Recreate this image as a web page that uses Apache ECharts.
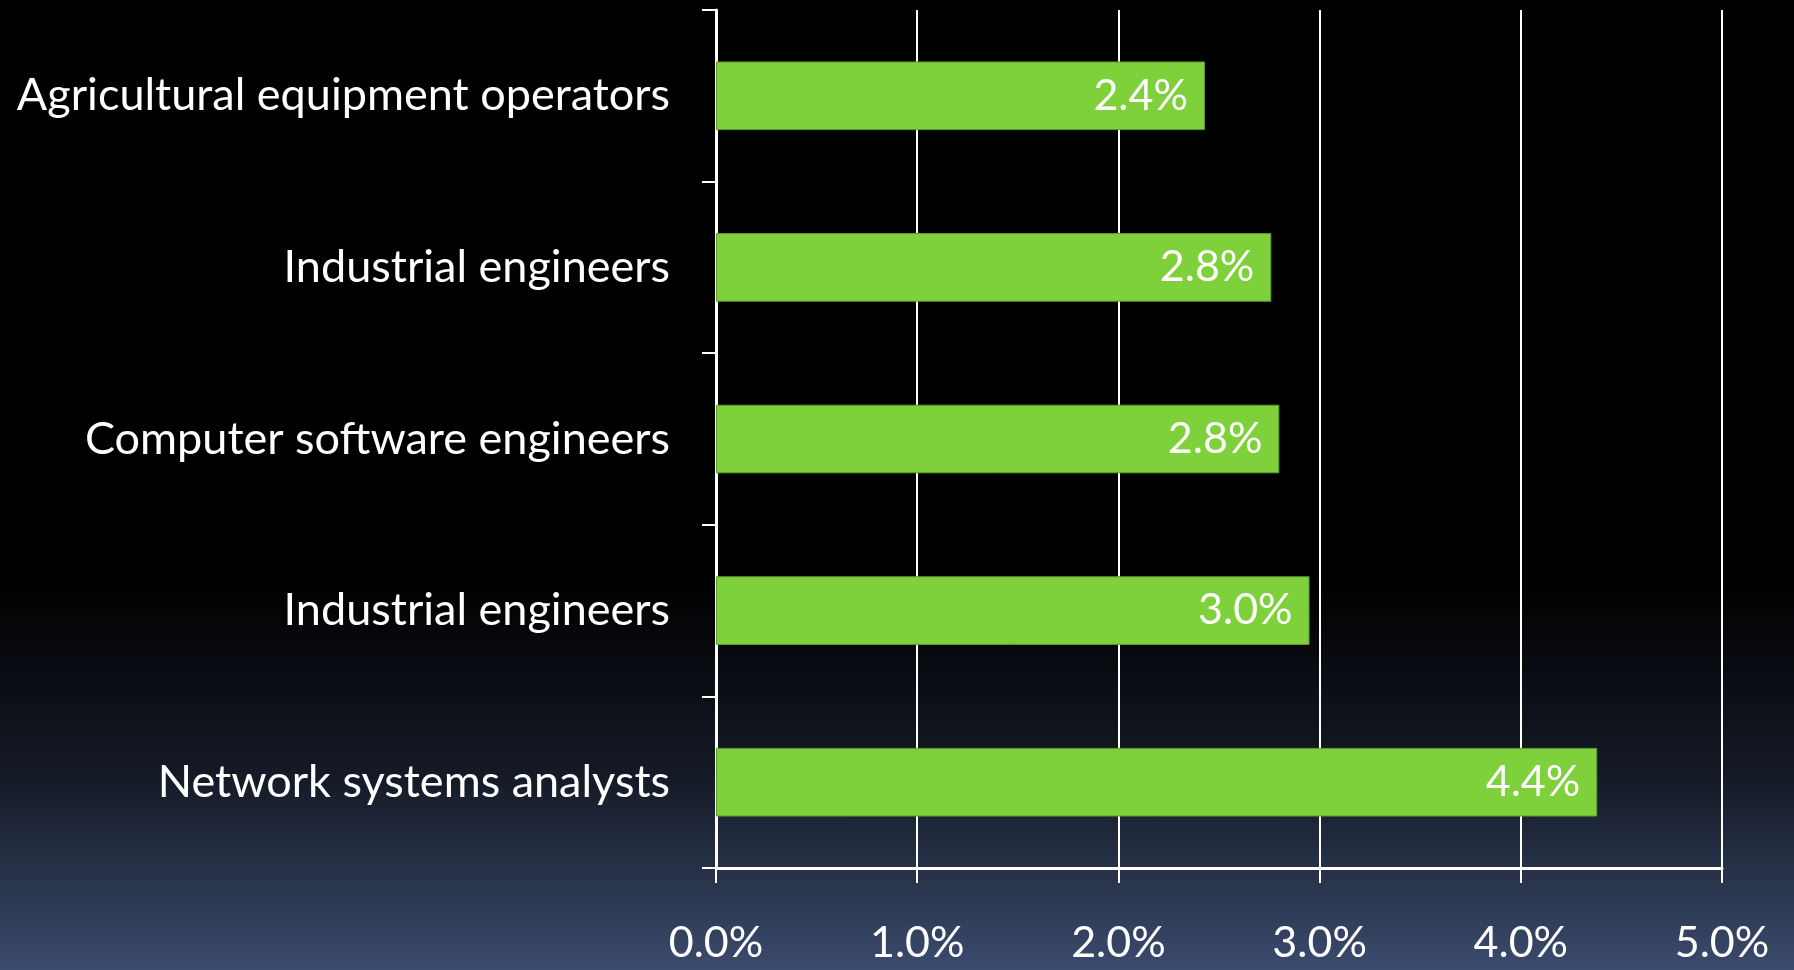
<!DOCTYPE html>
<html>
<head>
<meta charset="utf-8">
<script src="https://cdn.jsdelivr.net/npm/echarts@6/dist/echarts.min.js"></script>
<style>
  html, body { margin: 0; padding: 0; background: #000; }
  #chart { width: 1794px; height: 970px; }
</style>
</head>
<body>
<div id="chart"></div>
<script>
// categories top to bottom (two rows share the same name, so the axis uses indices)
var categories = [
    'Agricultural equipment operators',
    'Industrial engineers',
    'Computer software engineers',
    'Industrial engineers',
    'Network systems analysts'
];
var values = [2.43, 2.76, 2.80, 2.95, 4.38];   // percent
var xTicks = [0, 1, 2, 3, 4, 5];

var myChart = echarts.init(document.getElementById('chart'));
var font = 'Lato, "Open Sans", sans-serif';

var option = {
    backgroundColor: {
        type: 'linear', x: 0, y: 0, x2: 0, y2: 1,
        colorStops: [
            {offset: 0, color: '#000000'},
            {offset: 0.6, color: '#000000'},
            {offset: 0.8, color: '#141a26'},
            {offset: 1, color: '#3b4b6d'}
        ]
    },
    animation: false,
    grid: { left: 716, right: 72, top: 10, bottom: 102 },
    xAxis: {
        type: 'value',
        min: xTicks[0],
        max: xTicks[xTicks.length - 1],
        interval: 1,
        axisLine: { show: true, onZero: false, lineStyle: { color: '#ffffff', width: 3 } },
        axisTick: { show: true, length: 15, lineStyle: { color: '#ffffff', width: 2 } },
        splitLine: { show: true, lineStyle: { color: '#ffffff', width: 2 } },
        axisLabel: {
            color: '#ffffff', fontFamily: font, fontSize: 43, margin: 54,
            formatter: function (v) { return v.toFixed(1) + '%'; }
        }
    },
    yAxis: {
        type: 'category',
        inverse: true,
        data: categories.map(function (c, i) { return String(i); }),
        axisLine: { show: true, lineStyle: { color: '#ffffff', width: 3 } },
        axisTick: { show: true, length: 14, lineStyle: { color: '#ffffff', width: 2 } },
        axisLabel: {
            color: '#ffffff', fontFamily: font, fontSize: 45, margin: 46,
            formatter: function (v) { return categories[+v]; }
        }
    },
    series: [{
        type: 'bar',
        data: values,
        barCategoryGap: '60%',
        itemStyle: { color: '#7fd13b', borderColor: '#5e9a30', borderWidth: 1 },
        label: {
            show: true,
            position: 'insideRight',
            distance: 17,
            color: '#ffffff',
            fontFamily: font,
            fontSize: 43,
            formatter: function (p) { return p.value.toFixed(1) + '%'; }
        }
    }]
};
myChart.setOption(option);
</script>
</body>
</html>
